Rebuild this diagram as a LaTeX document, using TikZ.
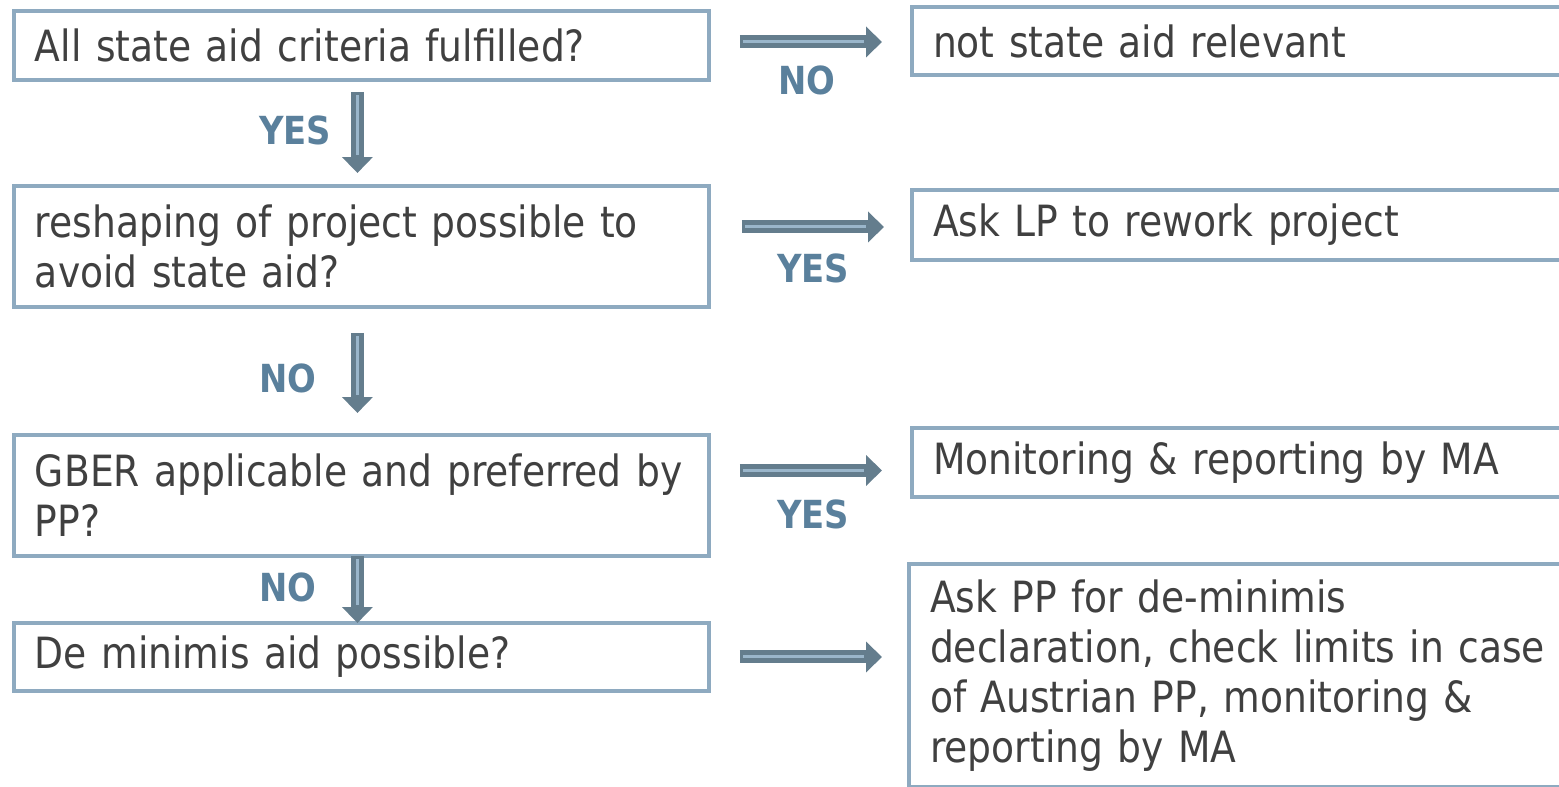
\documentclass[tikz,border=0pt]{standalone}
\usepackage{fontspec}
\setmainfont{DejaVu Sans}[FakeStretch=0.875]
\usepackage{tikz}
\usetikzlibrary{arrows.meta, calc}
\definecolor{boxline}{HTML}{8EAAC0}
\definecolor{boxtext}{HTML}{404040}
\definecolor{lbltext}{HTML}{5A809C}
\definecolor{arrowdark}{HTML}{647D8D}
\definecolor{arrowlight}{HTML}{9AB6CB}
\tikzset{
    qbox/.style={draw=boxline, line width=0.08cm, rectangle, anchor=north west, align=left,
        inner xsep=0.42cm, inner ysep=0pt, text=boxtext, text width=13.06cm,
        font=\fontsize{24.5}{28.45}\selectfont},
    abox/.style={qbox, text width=14cm},
    lbl/.style={text=lbltext, font=\fontsize{22}{26}\selectfont\bfseries},
    flowarrow/.style={draw=arrowdark, line width=0.26cm, -{Triangle[width=0.6cm,length=0.32cm]},
        postaction={draw=arrowlight, line width=0.06cm, -, shorten >=0.36cm, shorten <=0.06cm}}
}
\begin{document}
\begin{tikzpicture}[x=0.02cm, y=-0.02cm]
        \useasboundingbox (0,0) rectangle (1559,787);
        \clip (0,0) rectangle (1559,787);

        % questions
        \node[qbox, minimum height=1.38cm] (crit) at (12,9) {All state aid criteria fulfilled?};
        \node[qbox, minimum height=2.42cm] (reshape) at (12,184) {reshaping of project possible to\\avoid state aid?};
        \node[qbox, minimum height=2.42cm] (gber) at (12,433) {GBER applicable and preferred by\\PP?};
        \node[qbox, minimum height=1.36cm] (demin) at (12,621) {De minimis aid possible?};

        % outcomes
        \node[abox, minimum height=1.36cm] (notrel) at (910,5) {not state aid relevant};
        \node[abox, minimum height=1.40cm] (rework) at (910,188) {Ask LP to rework project};
        \node[abox, minimum height=1.38cm] (monit) at (910,426) {Monitoring \& reporting by MA};
        \node[abox, minimum height=4.46cm] (declar) at (907,562) {Ask PP for de-minimis\\declaration, check limits in case\\of Austrian PP, monitoring \&\\reporting by MA};

        \draw[flowarrow] ($(crit.east |- notrel.west)+(29,1)$) -- ($(notrel.west)+(-28,1)$);
        \draw[flowarrow] ($(reshape.east |- rework.west)+(31,2)$) -- ($(rework.west)+(-26,2)$);
        \draw[flowarrow] ($(gber.east |- monit.west)+(29,8)$) -- ($(monit.west)+(-28,8)$);
        \draw[flowarrow] ($(demin.east)+(29,0)$) -- ($(demin.east -| declar.west)+(-25,0)$);

        \draw[flowarrow] ($(crit.south)+(-4,10)$) -- ($(reshape.north)+(-4,-11)$);
        \draw[flowarrow] ($(reshape.south)+(-4,24)$) -- ($(gber.north)+(-4,-20)$);
        \draw[flowarrow] ($(gber.south)+(-4,-2)$) -- ($(demin.north)+(-4,2)$);

        \node[lbl] (noa) at (807,80) {NO};
        \node[lbl] (yesa) at (295,130) {YES};
        \node[lbl] (yesb) at (813,268) {YES};
        \node[lbl] (nob) at (288,378) {NO};
        \node[lbl] (yesc) at (813,514) {YES};
        \node[lbl] (noc) at (288,587) {NO};
    \end{tikzpicture}
\end{document}
